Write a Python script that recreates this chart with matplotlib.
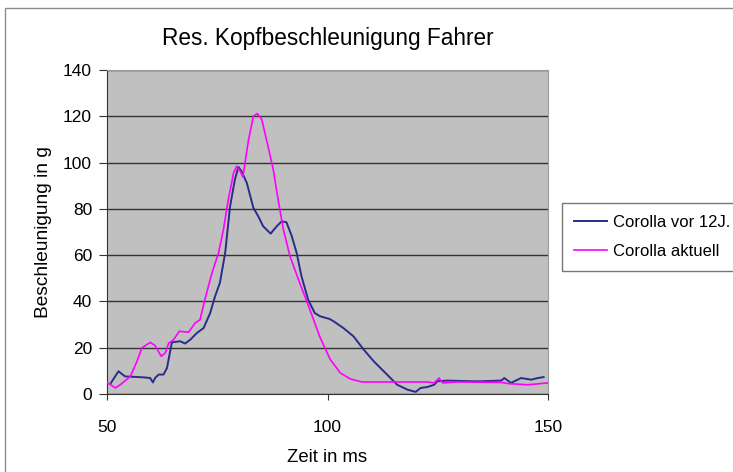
import matplotlib
matplotlib.use("Agg")
import matplotlib.pyplot as plt
from matplotlib.patches import Rectangle

plt.rcParams['font.family'] = ['Liberation Sans', 'DejaVu Sans']

title = "Res. Kopfbeschleunigung Fahrer"
xlabel = "Zeit in ms"
ylabel = "Beschleunigung in g"
series_names = ["Corolla vor 12J.", "Corolla aktuell"]
xticks = [50, 100, 150]
yticks = [0, 20, 40, 60, 80, 100, 120, 140]

t_old = [50.9, 52.6, 54.1, 58.3, 59.8, 60.4, 60.9, 61.7, 62.8, 63.6, 64.7, 66.6, 67.7,
         68.9, 70.4, 71.9, 73.4, 74.5, 75.6, 76.8, 77.9, 79.0, 79.8, 80.5, 81.7, 83.2,
         84.3, 85.4, 87.1, 88.5, 89.6, 90.7, 91.9, 93.0, 94.1, 95.6, 97.1, 98.3, 100.5,
         101.4, 103.6, 105.9, 108.2, 110.5, 113.5, 115.8, 118.1, 120.0, 121.1, 122.6,
         124.2, 124.9, 127.2, 132.9, 134.8, 139.4, 140.1, 141.6, 143.9, 146.2, 147.7, 149.0]
g_old = [4.8, 9.8, 7.6, 7.2, 6.9, 5.0, 6.9, 8.4, 8.4, 11.2, 22.3, 22.8, 21.8,
         23.5, 26.4, 28.5, 35.0, 42.2, 48.0, 61.0, 81.0, 92.7, 98.1, 96.3, 91.2, 80.4,
         76.8, 72.5, 69.3, 72.5, 74.6, 74.2, 68.2, 61.0, 50.9, 40.8, 35.0, 33.6, 32.4,
         31.4, 28.5, 24.9, 19.2, 14.1, 8.4, 4.0, 1.9, 0.9, 2.6, 3.0,
         4.0, 5.5, 5.8, 5.5, 5.5, 5.8, 6.9, 4.8, 6.9, 6.2, 6.9, 7.3]

t_new = [50.0, 51.9, 53.0, 55.3, 56.8, 57.9, 59.8, 60.9, 62.3, 63.2, 64.0, 65.1, 66.4,
         68.5, 70.0, 71.1, 72.2, 73.8, 75.3, 76.4, 77.5, 78.7, 79.4, 80.2, 80.8, 81.3,
         82.1, 83.2, 84.1, 85.1, 86.6, 87.7, 88.8, 90.0, 91.5, 93.7, 96.0, 98.3, 100.6,
         102.9, 105.2, 107.8, 122.6, 124.2, 125.3, 126.1, 129.5, 139.4, 140.9, 145.4, 150.0]
g_new = [5.0, 2.6, 4.0, 7.6, 14.1, 19.9, 22.3, 20.9, 16.3, 17.7, 22.0, 23.5, 27.1,
         26.7, 30.7, 32.1, 40.8, 52.3, 61.0, 71.0, 84.0, 95.5, 98.4, 96.3, 93.8, 99.9,
         109.9, 120.0, 121.2, 118.6, 106.3, 97.0, 84.0, 71.0, 59.5, 48.0, 36.5, 24.5, 15.0,
         9.1, 6.5, 5.2, 5.2, 4.8, 6.9, 4.8, 5.2, 5.0, 4.5, 4.0, 4.8]

W, H = 733, 472
fig = plt.figure(figsize=(W / 100, H / 100), dpi=100)
fig.patch.set_facecolor('white')

# chart area border
fig.add_artist(Rectangle((5 / W, -0.1), 1.2, 1 - 8 / H + 0.1, transform=fig.transFigure,
                         fill=False, edgecolor='#8c8c8c', linewidth=1.0))

ax = fig.add_axes([107 / W, 1 - 394 / H, (548 - 107) / W, (394 - 70) / H])
ax.set_facecolor('#C0C0C0')
ax.plot(t_old, g_old, color='#2B2B8C', linewidth=1.4, label=series_names[0], zorder=3)
ax.plot(t_new, g_new, color='#FF00FF', linewidth=1.2, label=series_names[1], zorder=3)

ax.set_xlim(50, 150)
ax.set_ylim(0, 140)
ax.set_xticks(xticks)
ax.set_yticks(yticks)
ax.yaxis.grid(True, color='#333333', linewidth=1.0)
ax.set_axisbelow(True)
ax.tick_params(axis='y', labelsize=12.5, direction='out', length=5.8, color='#333333', pad=5)
ax.tick_params(axis='x', labelsize=12.5, direction='out', length=4.5, color='#333333', pad=14.5)
ax.spines['left'].set_color('#333333')
ax.spines['bottom'].set_color('#333333')
ax.spines['top'].set_color('#9a9a9a')
ax.spines['right'].set_color('#9a9a9a')

ax.set_title(title, fontsize=16.3, pad=18)
ax.set_xlabel(xlabel, fontsize=13.3, labelpad=10)
ax.set_ylabel(ylabel, fontsize=13.8, labelpad=8)

leg = fig.legend(loc='upper left', bbox_to_anchor=(562 / W, 1 - 203 / H), fontsize=12,
                 frameon=True, fancybox=False, edgecolor='#555555', borderpad=0.7,
                 borderaxespad=0, handlelength=2.0, handletextpad=0.35, labelspacing=0.85)
leg.get_frame().set_linewidth(1.0)

fig.savefig('out.png', dpi=100)
